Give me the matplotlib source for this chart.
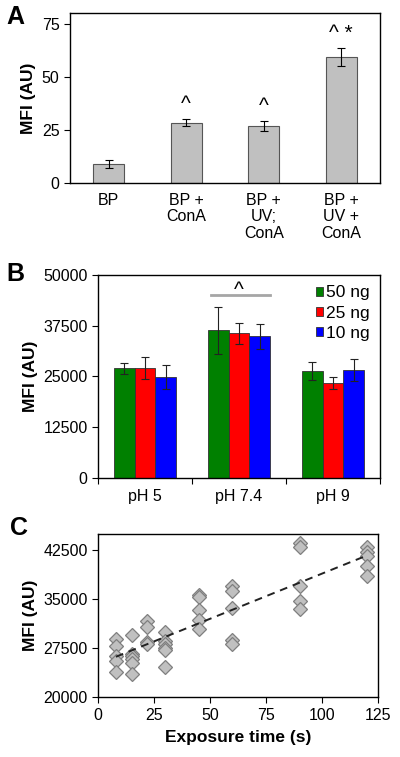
import numpy as np
import matplotlib
matplotlib.use("Agg")
import matplotlib.pyplot as plt

plt.rcParams['font.family'] = ['Liberation Sans', 'DejaVu Sans']
plt.rcParams['font.size'] = 11.5

# panel A
a_labels = ["BP", "BP +\nConA", "BP +\nUV;\nConA", "BP +\nUV +\nConA"]
a_vals = [9, 28.5, 27, 59.3]
a_err = [2.0, 1.5, 2.3, 4.3]
a_marks = ["", "^", "^", "^ *"]

# panel B
b_groups = ["pH 5", "pH 7.4", "pH 9"]
b_series = ["50 ng", "25 ng", "10 ng"]
b_vals = [[27000, 36400, 26300],
          [27100, 35600, 23400],
          [24900, 34900, 26600]]
b_err = [[1400, 5800, 2200],
         [2700, 2600, 1500],
         [3000, 3100, 2600]]
b_colors = ["#008000", "#ff0000", "#0000ff"]

# panel C
c_x = [8, 8, 8, 8, 8,
       15, 15, 15, 15, 15, 15,
       22, 22, 22, 22,
       30, 30, 30, 30, 30, 30,
       45, 45, 45, 45, 45,
       60, 60, 60, 60, 60,
       90, 90, 90, 90, 90,
       120, 120, 120, 120, 120]
c_y = [28900, 27900, 26300, 25600, 23800,
       29500, 26700, 26300, 25800, 25300, 23600,
       31700, 30700, 28400, 28100,
       30000, 28600, 28200, 27600, 27200, 24700,
       35700, 35400, 33400, 31900, 30400,
       37100, 36200, 33600, 28800, 28200,
       43600, 43000, 37100, 34700, 33500,
       43000, 42200, 41700, 40100, 38600]
trend_x = [8, 120]
trend_y = [26200, 41700]

fig = plt.figure(figsize=(4.0, 7.57), dpi=100)

# ---- A ----
axA = fig.add_axes([0.175, 0.7583, 0.775, 0.2241])
xa = np.arange(len(a_vals))
axA.bar(xa, a_vals, width=0.4, color="#c0c0c0", edgecolor="#555555", linewidth=0.8)
axA.errorbar(xa, a_vals, yerr=a_err, fmt="none", ecolor="black", elinewidth=0.8, capsize=3, capthick=0.8)
for i, m in enumerate(a_marks):
    if m:
        axA.text(xa[i], a_vals[i] + a_err[i] + 2.5, m, ha="center", va="bottom", fontsize=15)
axA.set_xlim(-0.5, 3.5)
axA.set_ylim(0, 80)
axA.set_yticks([0, 25, 50, 75])
axA.set_xticks(xa)
axA.set_xticklabels(a_labels, linespacing=1.15)
axA.tick_params(axis="x", length=0, pad=7)
axA.tick_params(axis="y", length=4, direction="out")
axA.set_ylabel("MFI (AU)", fontweight="bold", fontsize=12.5, labelpad=4)

# ---- B ----
axB = fig.add_axes([0.245, 0.3686, 0.705, 0.2681])
xb = np.arange(len(b_groups))
w = 0.22
for j in range(3):
    axB.bar(xb + (j - 1) * w, b_vals[j], width=w, color=b_colors[j], edgecolor="#333333",
            linewidth=0.6, label=b_series[j])
    axB.errorbar(xb + (j - 1) * w, b_vals[j], yerr=b_err[j], fmt="none", ecolor="#222222",
                 elinewidth=0.8, capsize=3, capthick=0.8)
axB.plot([0.7, 1.33], [45100, 45100], color="#a6a6a6", linewidth=2)
axB.text(1.0, 43900, "^", ha="center", va="bottom", fontsize=15)
axB.set_xlim(-0.5, 2.5)
axB.set_ylim(0, 50000)
axB.set_yticks([0, 12500, 25000, 37500, 50000])
axB.set_xticks([-0.5, 0.5, 1.5, 2.5])
axB.set_xticklabels([])
axB.set_xticks(xb, minor=True)
axB.set_xticklabels(b_groups, minor=True)
axB.tick_params(axis="x", which="minor", length=0, pad=8)
axB.tick_params(axis="x", which="major", length=4, direction="out")
axB.tick_params(axis="y", length=4, direction="out")
axB.set_ylabel("MFI (AU)", fontweight="bold", fontsize=12.5, labelpad=4)
axB.legend(loc="upper right", frameon=False, handlelength=0.45, handleheight=0.45,
           handletextpad=0.15, labelspacing=0.3, fontsize=12.5, borderaxespad=0.2)

# ---- C ----
axC = fig.add_axes([0.245, 0.0789, 0.7, 0.2157])
axC.plot(c_x, c_y, linestyle="none", marker="D", markersize=6.8, markerfacecolor="#c0c0c0",
         markeredgecolor="#7f7f7f", markeredgewidth=0.9)
axC.plot(trend_x, trend_y, linestyle=(0, (4, 3)), color="#222222", linewidth=1.4)
axC.set_xlim(0, 125)
axC.set_ylim(20000, 45000)
axC.set_xticks([0, 25, 50, 75, 100, 125])
axC.set_yticks([20000, 27500, 35000, 42500])
axC.tick_params(length=4, direction="out")
axC.set_ylabel("MFI (AU)", fontweight="bold", fontsize=12.5, labelpad=4)
axC.set_xlabel("Exposure time (s)", fontweight="bold", fontsize=12.5, labelpad=5)

for ax in (axA, axB, axC):
    for s in ax.spines.values():
        s.set_linewidth(1.0)
    ax.tick_params(labelsize=11.5)

fig.text(0.015, 0.978, "A", fontsize=18, fontweight="bold", va="center")
fig.text(0.015, 0.638, "B", fontsize=18, fontweight="bold", va="center")
fig.text(0.025, 0.302, "C", fontsize=18, fontweight="bold", va="center")

fig.savefig("out.png", dpi=100)
